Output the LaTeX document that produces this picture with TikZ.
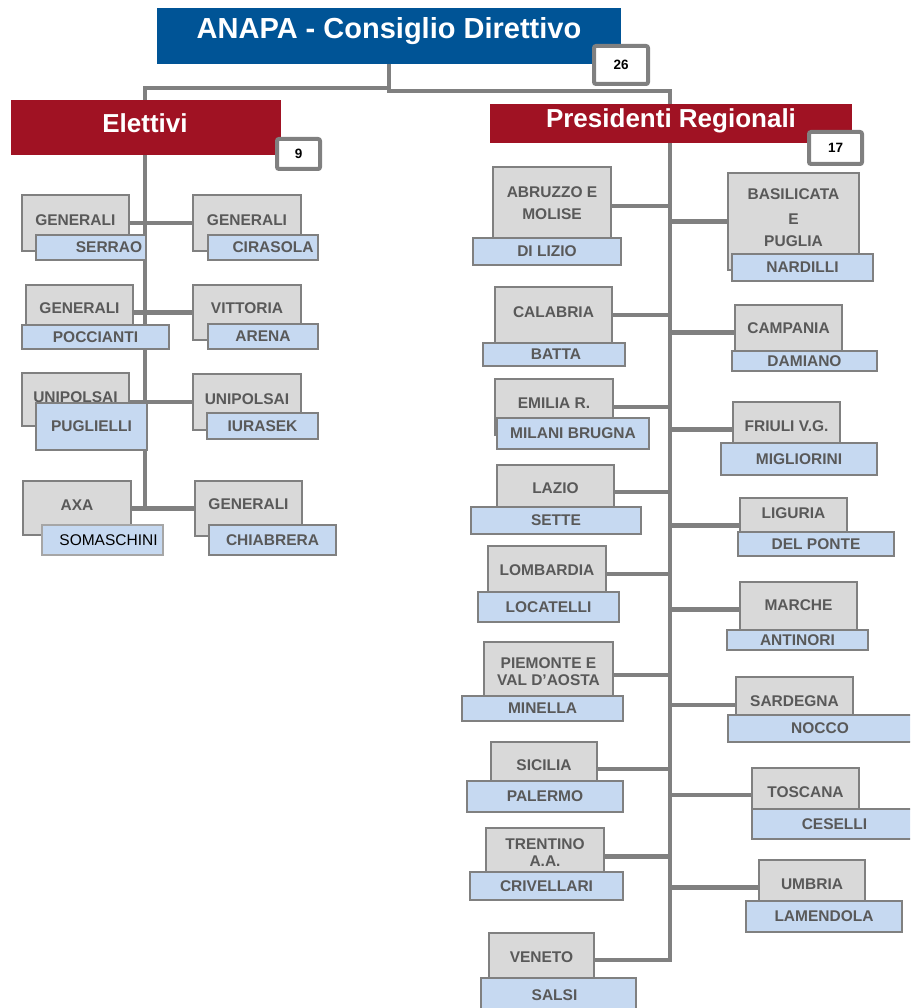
\documentclass[tikz,border=0pt]{standalone}
\usepackage{fontspec}
\setmainfont{Liberation Sans}
\usetikzlibrary{calc}
\definecolor{tblue}{RGB}{0,84,150}
\definecolor{tred}{RGB}{160,18,35}
\definecolor{gfill}{RGB}{217,217,217}
\definecolor{bfill}{RGB}{198,217,241}
\definecolor{lgray}{RGB}{128,128,128}
\definecolor{sgray}{RGB}{166,166,166}
\definecolor{tgray}{RGB}{89,89,89}
\pgfdeclarelayer{bg}
\pgfsetlayers{bg,main}
\tikzset{
 gbox/.style={draw=lgray,fill=gfill,line width=2pt,inner sep=0pt},
 bbox/.style={draw=lgray,fill=bfill,line width=2pt,inner sep=0pt},
 sbox/.style={draw=sgray,fill=bfill,line width=2.5pt,inner sep=0pt},
 lab/.style={inner sep=0pt,text=tgray,font=\fontsize{15.5}{17}\selectfont\bfseries,align=center},
 stxt/.style={inner sep=0pt,text=black,font=\fontsize{15.5}{17}\selectfont},
 conn/.style={draw=lgray,line width=4.5pt},
 badge/.style={draw=lgray,fill=white,line width=4pt,rounded corners=2pt,inner sep=0pt},
 badgetxt/.style={inner sep=0pt,text=black,font=\fontsize{13.5}{15}\selectfont\bfseries},
 hblue/.style={fill=tblue,inner sep=0pt},
 hred/.style={fill=tred,inner sep=0pt},
 headtxt/.style={inner sep=0pt,text=white,anchor=base,font=\fontsize{26}{30}\selectfont\bfseries},
}
\newcommand\boxat[6]{\node[#2,minimum width={(#5-#3)*1pt},minimum height={(#6-#4)*1pt}] (#1) at ({(#3+#5)/2},{(#4+#6)/2}) {};}
\newcommand\gb[7]{\boxat{#1}{gbox}{#2}{#3}{#4}{#5}\node[lab] (#1t) at ({(#2+#4)/2},#7) {#6};}
\newcommand\bb[7]{\boxat{#1}{bbox}{#2}{#3}{#4}{#5}\node[lab,xshift=#7pt] (#1t) at (#1) {#6};}
\begin{document}
\begin{tikzpicture}[x=1pt,y=-1pt]
\useasboundingbox (0,0) rectangle (910,1008);
\clip (0,0) rectangle (910,1008);
% headers
\boxat{title}{hblue}{157}{8}{621}{64}
\node[headtxt,font=\fontsize{29}{33}\selectfont\bfseries] (titlet) at (389,38.5) {ANAPA - Consiglio Direttivo};
\boxat{n26}{badge}{594}{46}{648}{84}
\node[badgetxt] (n26t) at (n26) {26};
\boxat{elet}{hred}{11}{100}{281}{155}
\node[headtxt] (elett) at (145,133) {Elettivi};
\boxat{n9}{badge}{277}{139}{320}{169}
\node[badgetxt] (n9t) at (n9) {9};
\boxat{pres}{hred}{490}{104}{852}{143}
\node[headtxt] (prest) at (671,128) {Presidenti Regionali};
\boxat{n17}{badge}{809}{132}{862}{164}
\node[badgetxt] (n17t) at (n17) {17};
% Elettivi
\gb{e1}{21.7}{195}{129}{251}{GENERALI}{220}
\bb{e1n}{36}{235}{146}{260}{SERRAO}{18}
\gb{e2}{193}{195}{301}{251}{GENERALI}{220}
\bb{e2n}{208}{235}{318}{260}{CIRASOLA}{10}
\gb{e3}{26}{285}{133}{341}{GENERALI}{308}
\bb{e3n}{22}{325}{169}{349}{POCCIANTI}{0}
\gb{e4}{193}{285}{301}{340}{VITTORIA}{308}
\bb{e4n}{208}{324}{318}{349}{ARENA}{0}
\gb{e5}{22}{373}{129}{426}{UNIPOLSAI}{397}
\bb{e5n}{36}{403}{147}{450}{PUGLIELLI}{0}
\gb{e6}{193}{374}{301}{430}{UNIPOLSAI}{399}
\bb{e6n}{207}{413}{318}{439}{IURASEK}{0}
\gb{e7}{23}{481}{131}{535}{AXA}{505}
\boxat{e7n}{sbox}{42}{525}{163}{555}
\node[stxt,xshift=6pt] (e7nt) at (e7n) {SOMASCHINI};
\gb{e8}{195}{481}{302}{536}{GENERALI}{504}
\bb{e8n}{209}{525}{336}{555}{CHIABRERA}{0}
% Presidenti Regionali
\gb{r1}{493}{167}{611}{245}{ABRUZZO E\\[5.3pt]MOLISE}{203}
\bb{r1n}{473}{238}{621}{265}{DI LIZIO}{0}
\gb{r2}{728}{173}{859}{270}{BASILICATA\\[8pt]E\\[5pt]PUGLIA}{217.5}
\bb{r2n}{732}{254}{873}{281}{NARDILLI}{0}
\gb{r3}{495}{287}{612}{343}{CALABRIA}{311.7}
\bb{r3n}{483}{343}{625}{366}{BATTA}{2}
\gb{r4}{735}{305}{842}{360}{CAMPANIA}{328}
\bb{r4n}{732}{351}{877}{371}{DAMIANO}{0}
\gb{r5}{495}{379}{613}{435}{EMILIA R.}{402.7}
\bb{r5n}{497}{418}{649}{449}{MILANI BRUGNA}{0}
\gb{r6}{733}{402}{840}{457}{FRIULI V.G.}{426}
\bb{r6n}{721}{443}{877}{475}{MIGLIORINI}{0}
\gb{r7}{497}{465}{614}{519}{LAZIO}{488}
\bb{r7n}{471}{507}{641}{534}{SETTE}{0}
\gb{r8}{740}{498}{847}{553}{LIGURIA}{513}
\bb{r8n}{738}{532}{894}{556}{DEL PONTE}{0}
\gb{r9}{488}{546}{606}{602}{LOMBARDIA}{570}
\bb{r9n}{478}{592}{619}{622}{LOCATELLI}{0}
\gb{r10}{740}{582}{857}{637}{MARCHE}{605}
\bb{r10n}{727}{630}{868}{650}{ANTINORI}{0}
\gb{r11}{484}{642}{613}{708}{PIEMONTE E\\VAL D’AOSTA}{671.7}
\bb{r11n}{462}{696}{623}{721}{MINELLA}{0}
\gb{r12}{736}{677}{853}{733}{SARDEGNA}{701}
\bb{r12n}{728}{715}{912}{742}{NOCCO}{0}
\gb{r13}{491}{742}{597}{796}{SICILIA}{765}
\bb{r13n}{467}{781}{623}{812}{PALERMO}{0}
\gb{r14}{752}{768}{859}{822}{TOSCANA}{792.3}
\bb{r14n}{752}{809}{917}{839}{CESELLI}{0}
\gb{r15}{486}{828}{604}{885}{TRENTINO\\A.A.}{852.7}
\bb{r15n}{470}{872}{623}{900}{CRIVELLARI}{0}
\gb{r16}{759}{860}{865}{915}{UMBRIA}{884.3}
\bb{r16n}{746}{901}{902}{932}{LAMENDOLA}{0}
\gb{r17}{489}{933}{594}{987}{VENETO}{956.7}
\bb{r17n}{481}{978}{636}{1012}{SALSI}{-4}
% connectors
\begin{pgfonlayer}{bg}
\coordinate (ltop) at (145,88);
\coordinate (rtop) at (670,91);
\draw[conn] (title.south) |- (ltop) |- (e7.east);
\draw[conn] (title.south) |- (rtop) |- (r17.east);
\draw[conn] (e2.west) -- (e2.west -| e1.east);
\draw[conn] (e4.west) -- (e4.west -| e3.east);
\draw[conn] (e6.west) -- (e6.west -| e5.east);
\draw[conn] (e8.west) -- (e8.west -| e7.east);
\foreach \n in {r1,r3,r5,r7,r9,r11,r13,r15}
  \draw[conn] (\n.east) -- (\n.east -| rtop);
\foreach \n in {r2,r4,r6,r8,r10,r12,r14,r16}
  \draw[conn] (\n.west) -- (\n.west -| rtop);
\end{pgfonlayer}
\end{tikzpicture}
\end{document}
